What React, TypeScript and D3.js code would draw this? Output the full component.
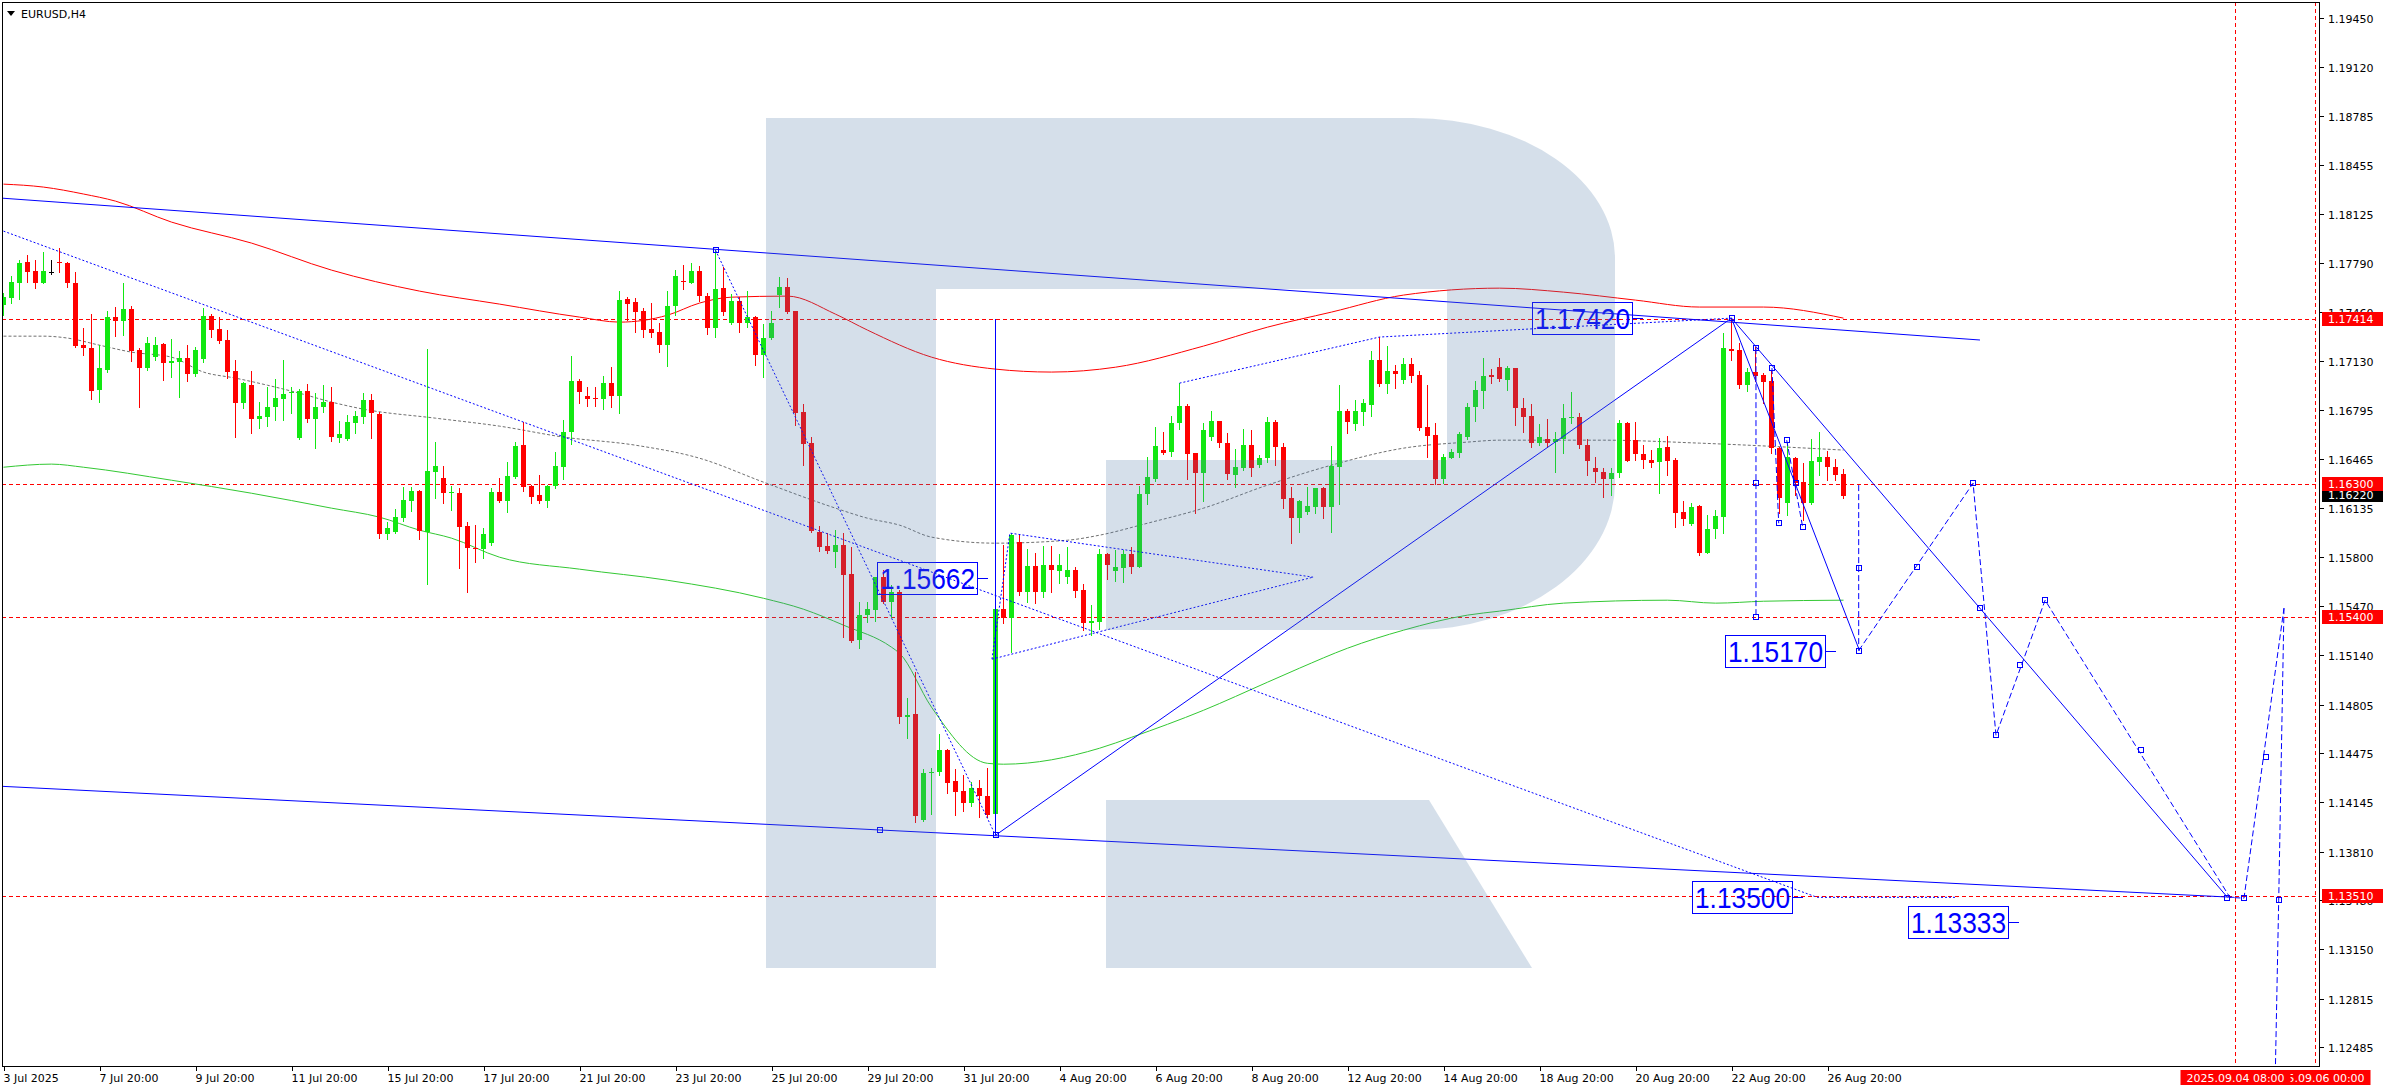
import React from 'react';
import * as d3 from 'd3';

// ---------- DATA ----------
const X_LABELS = ["3 Jul 2025","7 Jul 20:00","9 Jul 20:00","11 Jul 20:00","15 Jul 20:00","17 Jul 20:00","21 Jul 20:00","23 Jul 20:00","25 Jul 20:00","29 Jul 20:00","31 Jul 20:00","4 Aug 20:00","6 Aug 20:00","8 Aug 20:00","12 Aug 20:00","14 Aug 20:00","18 Aug 20:00","20 Aug 20:00","22 Aug 20:00","26 Aug 20:00"];
const X_LABEL_STEP = 12;
const PRICE_TICKS = [1.19450,1.19120,1.18785,1.18455,1.18125,1.17790,1.17460,1.17130,1.16795,1.16465,1.16135,1.15800,1.15470,1.15140,1.14805,1.14475,1.14145,1.13810,1.13480,1.13150,1.12815,1.12485];
const LEVELS = [1.17414, 1.16300, 1.15400, 1.13510];
const BID = 1.16220;
const TIME_MARKERS: { bar: number; label: string }[] = [
  { bar: 289, label: "2025.09.06 00:00" },
  { bar: 279, label: "2025.09.04 08:00" },
];

// H4 candles: [open, high, low, close]
const OHLC: [number, number, number, number][] = [
[1.17508,1.17589,1.17440,1.17562],[1.17555,1.17704,1.17522,1.17664],[1.17657,1.17813,1.17549,1.17792],[1.17799,1.17847,1.17664,1.17732],
[1.17738,1.17813,1.17623,1.17657],[1.17657,1.17867,1.17657,1.17738],[1.17732,1.17813,1.17718,1.17732],[1.17799,1.17894,1.17732,1.17792],
[1.17792,1.17799,1.17630,1.17657],[1.17657,1.17732,1.17224,1.17231],[1.17237,1.17352,1.17170,1.17217],[1.17217,1.17447,1.16872,1.16926],
[1.16933,1.17237,1.16851,1.17082],[1.17068,1.17468,1.17055,1.17427],[1.17427,1.17495,1.17298,1.17400],[1.17400,1.17657,1.17305,1.17481],
[1.17481,1.17501,1.17129,1.17197],[1.17204,1.17217,1.16818,1.17082],[1.17082,1.17292,1.17068,1.17251],[1.17156,1.17292,1.17136,1.17237],
[1.17244,1.17251,1.17000,1.17115],[1.17115,1.17278,1.17021,1.17129],[1.17122,1.17197,1.16885,1.17149],[1.17149,1.17237,1.16994,1.17041],
[1.17041,1.17224,1.17028,1.17204],[1.17143,1.17488,1.17122,1.17434],[1.17434,1.17447,1.17292,1.17339],[1.17346,1.17427,1.17251,1.17264],
[1.17271,1.17339,1.17014,1.17055],[1.17061,1.17136,1.16615,1.16845],[1.16845,1.16987,1.16811,1.16980],[1.16966,1.17061,1.16642,1.16736],
[1.16736,1.16851,1.16675,1.16757],[1.16750,1.16953,1.16689,1.16818],[1.16818,1.17007,1.16730,1.16879],[1.16872,1.17136,1.16730,1.16906],
[1.16912,1.16953,1.16777,1.16919],[1.16608,1.16940,1.16601,1.16926],[1.16926,1.16973,1.16716,1.16736],[1.16736,1.16912,1.16540,1.16818],
[1.16818,1.16966,1.16784,1.16851],[1.16851,1.16953,1.16587,1.16615],[1.16608,1.16723,1.16581,1.16635],[1.16601,1.16763,1.16594,1.16716],
[1.16709,1.16790,1.16642,1.16757],[1.16750,1.16912,1.16709,1.16865],[1.16865,1.16906,1.16608,1.16777],[1.16770,1.16784,1.15931,1.15958],
[1.15958,1.16039,1.15924,1.15998],[1.15971,1.16127,1.15965,1.16073],[1.16066,1.16276,1.16046,1.16188],[1.16181,1.16276,1.16114,1.16249],
[1.16249,1.16256,1.15924,1.15978],[1.15971,1.17210,1.15619,1.16384],[1.16378,1.16581,1.16202,1.16418],[1.16337,1.16418,1.16168,1.16235],
[1.16235,1.16283,1.16120,1.16242],[1.16235,1.16269,1.15728,1.16005],[1.16012,1.16039,1.15565,1.15863],[1.15863,1.16019,1.15768,1.15856],
[1.15856,1.15998,1.15795,1.15958],[1.15897,1.16269,1.15883,1.16242],[1.16242,1.16337,1.16175,1.16181],[1.16181,1.16445,1.16107,1.16351],
[1.16344,1.16581,1.16337,1.16554],[1.16560,1.16716,1.16249,1.16276],[1.16283,1.16290,1.16168,1.16208],[1.16222,1.16357,1.16168,1.16181],
[1.16181,1.16290,1.16141,1.16283],[1.16283,1.16513,1.16269,1.16418],[1.16411,1.16730,1.16330,1.16648],[1.16648,1.17163,1.16567,1.16994],
[1.16994,1.17007,1.16845,1.16919],[1.16892,1.16953,1.16824,1.16872],[1.16879,1.16953,1.16824,1.16872],[1.16872,1.17028,1.16804,1.16980],
[1.16980,1.17088,1.16818,1.16892],[1.16892,1.17603,1.16777,1.17542],[1.17549,1.17562,1.17407,1.17515],[1.17528,1.17555,1.17325,1.17461],
[1.17468,1.17488,1.17292,1.17339],[1.17346,1.17522,1.17292,1.17319],[1.17325,1.17386,1.17190,1.17237],[1.17237,1.17603,1.17095,1.17501],
[1.17501,1.17745,1.17440,1.17704],[1.17671,1.17779,1.17616,1.17664],[1.17657,1.17792,1.17657,1.17738],[1.17738,1.17772,1.17535,1.17569],
[1.17569,1.17589,1.17312,1.17352],[1.17352,1.17880,1.17292,1.17616],[1.17623,1.17765,1.17440,1.17461],[1.17386,1.17583,1.17380,1.17535],
[1.17535,1.17562,1.17325,1.17386],[1.17386,1.17603,1.17359,1.17427],[1.17427,1.17434,1.17102,1.17170],[1.17170,1.17380,1.17021,1.17285],
[1.17285,1.17468,1.17278,1.17386],[1.17576,1.17698,1.17495,1.17630],[1.17630,1.17691,1.17454,1.17461],[1.17468,1.17468,1.16696,1.16777],
[1.16784,1.16838,1.16425,1.16567],[1.16574,1.16615,1.15971,1.15978],[1.15971,1.16012,1.15843,1.15870],[1.15877,1.15965,1.15829,1.15843],
[1.15836,1.15984,1.15734,1.15883],[1.15883,1.15965,1.15261,1.15680],[1.15687,1.15870,1.15227,1.15233],[1.15240,1.15497,1.15186,1.15409],
[1.15409,1.15497,1.15362,1.15450],[1.15443,1.15667,1.15369,1.15667],[1.15667,1.15714,1.15491,1.15497],[1.15497,1.15613,1.15396,1.15565],
[1.15565,1.15579,1.14678,1.14719],[1.14719,1.14848,1.14577,1.14732],[1.14739,1.15024,1.14008,1.14049],[1.14022,1.14367,1.14015,1.14340],
[1.14340,1.14374,1.14062,1.14347],[1.14347,1.14604,1.14326,1.14497],[1.14497,1.14502,1.14204,1.14272],[1.14286,1.14367,1.14055,1.14211],
[1.14218,1.14326,1.14082,1.14137],[1.14137,1.14279,1.14117,1.14238],[1.14238,1.14292,1.14042,1.14184],[1.14184,1.14374,1.14042,1.14055],
[1.14062,1.15511,1.13937,1.15450],[1.15450,1.15883,1.15355,1.15389],[1.15389,1.15965,1.15159,1.15951],[1.15904,1.15951,1.15545,1.15565],
[1.15565,1.15856,1.15497,1.15741],[1.15741,1.15829,1.15491,1.15565],[1.15565,1.15877,1.15531,1.15748],[1.15748,1.15877,1.15565,1.15715],
[1.15707,1.15822,1.15626,1.15748],[1.15667,1.15870,1.15626,1.15715],[1.15715,1.15734,1.15531,1.15573],[1.15580,1.15619,1.15309,1.15355],
[1.15355,1.15477,1.15274,1.15369],[1.15362,1.15856,1.15315,1.15822],[1.15822,1.15829,1.15653,1.15748],[1.15707,1.15851,1.15640,1.15734],
[1.15728,1.15851,1.15633,1.15822],[1.15822,1.15870,1.15694,1.15734],[1.15734,1.16283,1.15734,1.16229],[1.16229,1.16479,1.16161,1.16344],
[1.16330,1.16682,1.16317,1.16554],[1.16528,1.16648,1.16499,1.16506],[1.16513,1.16757,1.16486,1.16709],[1.16709,1.16980,1.16669,1.16824],
[1.16824,1.16838,1.16330,1.16499],[1.16506,1.16506,1.16100,1.16371],[1.16371,1.16709,1.16181,1.16663],[1.16615,1.16790,1.16594,1.16723],
[1.16723,1.16723,1.16547,1.16574],[1.16574,1.16642,1.16330,1.16364],[1.16357,1.16533,1.16276,1.16411],[1.16405,1.16669,1.16392,1.16560],
[1.16560,1.16662,1.16351,1.16405],[1.16425,1.16493,1.16411,1.16472],[1.16472,1.16750,1.16445,1.16716],[1.16716,1.16730,1.16425,1.16547],
[1.16547,1.16574,1.16134,1.16195],[1.16202,1.16276,1.15897,1.16066],[1.16066,1.16188,1.15971,1.16181],[1.16107,1.16276,1.16093,1.16147],
[1.16141,1.16269,1.16100,1.16269],[1.16269,1.16276,1.16066,1.16141],[1.16141,1.16554,1.15971,1.16418],[1.16411,1.16966,1.16161,1.16790],
[1.16790,1.16804,1.16642,1.16716],[1.16702,1.16865,1.16663,1.16790],[1.16784,1.16872,1.16696,1.16845],[1.16831,1.17197,1.16757,1.17136],
[1.17136,1.17292,1.16960,1.16973],[1.16973,1.17231,1.16912,1.17061],[1.17061,1.17102,1.16946,1.17041],[1.17000,1.17149,1.16980,1.17109],
[1.17109,1.17149,1.16987,1.17028],[1.17034,1.17061,1.16663,1.16675],[1.16682,1.16966,1.16479,1.16621],[1.16628,1.16709,1.16296,1.16330],
[1.16330,1.16499,1.16303,1.16479],[1.16472,1.16533,1.16472,1.16513],[1.16506,1.16648,1.16479,1.16635],[1.16615,1.16845,1.16601,1.16818],
[1.16818,1.16994,1.16723,1.16933],[1.16926,1.17149,1.16811,1.17028],[1.17034,1.17075,1.16980,1.17021],[1.17088,1.17149,1.16994,1.17007],
[1.17000,1.17095,1.16933,1.17082],[1.17082,1.17082,1.16696,1.16811],[1.16811,1.16879,1.16648,1.16750],[1.16757,1.16838,1.16547,1.16574],
[1.16574,1.16702,1.16560,1.16615],[1.16601,1.16736,1.16547,1.16574],[1.16581,1.16648,1.16378,1.16601],[1.16601,1.16838,1.16506,1.16743],
[1.16743,1.16919,1.16709,1.16750],[1.16750,1.16777,1.16540,1.16560],[1.16560,1.16601,1.16357,1.16452],[1.16405,1.16479,1.16310,1.16378],
[1.16378,1.16405,1.16208,1.16330],[1.16330,1.16405,1.16222,1.16371],[1.16371,1.16730,1.16344,1.16709],[1.16709,1.16716,1.16452,1.16452],
[1.16595,1.16716,1.16460,1.16499],[1.16499,1.16560,1.16405,1.16460],[1.16460,1.16528,1.16411,1.16439],[1.16445,1.16608,1.16235,1.16540],
[1.16547,1.16621,1.16357,1.16452],[1.16460,1.16472,1.16005,1.16100],[1.16107,1.16181,1.16019,1.16059],[1.16025,1.16168,1.16019,1.16141],
[1.16147,1.16154,1.15816,1.15829],[1.15829,1.16086,1.15829,1.15992],[1.15992,1.16120,1.15931,1.16080],[1.16073,1.17319,1.15965,1.17217],
[1.17210,1.17420,1.17136,1.17197],[1.17204,1.17251,1.16946,1.16966],[1.16966,1.17082,1.16926,1.17055],[1.17055,1.17224,1.16994,1.17028],
[1.17034,1.17048,1.16845,1.16987],[1.16994,1.17068,1.16506,1.16540],[1.16540,1.16547,1.16100,1.16202],[1.16168,1.16574,1.16086,1.16479],
[1.16472,1.16479,1.16222,1.16303],[1.16310,1.16439,1.16054,1.16168],[1.16168,1.16601,1.16161,1.16452],[1.16445,1.16648,1.16357,1.16479],
[1.16479,1.16520,1.16325,1.16411],[1.16411,1.16466,1.16325,1.16357],[1.16364,1.16398,1.16202,1.16215]
];

// Moving averages: [bar, price]
const MA_RED: [number, number][] = [[0,1.18327],[5,1.18307],[10,1.18260],[14,1.18212],[21,1.18070],[31,1.17928],[41,1.17745],[52,1.17603],[62,1.17515],[72,1.17427],[77,1.17393],[83,1.17440],[87,1.17522],[91,1.17562],[98,1.17569],[104,1.17447],[108,1.17339],[116,1.17156],[124,1.17075],[131,1.17055],[139,1.17088],[150,1.17231],[158,1.17359],[166,1.17461],[175,1.17576],[187,1.17623],[195,1.17596],[204,1.17542],[212,1.17495],[220,1.17495],[230,1.17420]];
const MA_GREEN: [number, number][] = [[0,1.16411],[6,1.16432],[10,1.16411],[21,1.16323],[31,1.16235],[41,1.16134],[47,1.16073],[52,1.15985],[56,1.15931],[62,1.15802],[72,1.15721],[83,1.15646],[95,1.15524],[100,1.15450],[105,1.15342],[111,1.15193],[112,1.15152],[116,1.14787],[123,1.14407],[125,1.14401],[137,1.14509],[141,1.14583],[150,1.14766],[158,1.14956],[162,1.15051],[168,1.15186],[175,1.15308],[183,1.15410],[187,1.15437],[195,1.15491],[208,1.15511],[214,1.15491],[220,1.15504],[230,1.15511]];
const MA_GRAY: [number, number][] = [[0,1.17298],[5,1.17298],[8,1.17285],[12,1.17237],[16,1.17190],[21,1.17156],[25,1.17055],[29,1.17014],[33,1.16966],[37,1.16912],[41,1.16852],[45,1.16804],[54,1.16743],[62,1.16689],[70,1.16615],[79,1.16560],[87,1.16472],[95,1.16310],[104,1.16134],[108,1.16066],[112,1.16019],[116,1.15938],[124,1.15897],[133,1.15917],[137,1.15951],[143,1.16032],[150,1.16134],[158,1.16290],[166,1.16425],[175,1.16540],[183,1.16581],[187,1.16594],[200,1.16594],[212,1.16574],[230,1.16527]];

// Analyst drawings: [bar, price]
const SOLID_LINES: [number, number][][] = [
  [[-0.44,1.18233],[247.06,1.17272]],
  [[-0.44,1.14252],[278.8,1.13500]],
  [[124,1.13920],[216,1.17420]],
  [[124,1.13920],[124,1.17414]],
  [[216,1.17420],[232,1.15170]],
  [[216,1.17420],[278,1.13500]],
];
const DOTTED_LINES: [number, number][][] = [
  [[0,1.18009],[226.7,1.13500],[244.2,1.13500]],
  [[89,1.17880],[124,1.13920]],
  [[147,1.16980],[172,1.17292],[216,1.17420]],
  [[123.56,1.15112],[125.8,1.15965],[163.7,1.15667]],
  [[123.56,1.15112],[163.7,1.15667]],
];
const DASHED_LINES: [number, number][][] = [
  [[219.06,1.17217],[219.06,1.15396]],
  [[221.06,1.17082],[221.9,1.16032]],
  [[222.9,1.16594],[224.9,1.16005]],
  [[231.9,1.16290],[231.9,1.15170]],
  [[231.9,1.15170],[246.2,1.16303],[249.06,1.14597],[255.2,1.15511],[278.3,1.13500],[280.06,1.13494],[285.06,1.15457]],
  [[285.06,1.15457],[284.4,1.13480],[283.9,1.12100]],
];
const MARKERS: [number, number][] = [
  [89,1.17880],[216,1.17420],[124,1.13920],[109.6,1.13956],[224.06,1.16303],[231.9,1.15170],[247.06,1.15456],
  [277.9,1.13494],[280.06,1.13494],[239.2,1.15735],[252.1,1.15071],[267.2,1.14496],[282.8,1.14448],[284.4,1.13480],
  [231.9,1.15728],[219.06,1.17217],[219.06,1.16303],[219.06,1.15396],[221.06,1.17082],[221.9,1.16032],[222.9,1.16594],[224.9,1.16005],[246.2,1.16303],[249.06,1.14597],[255.2,1.15511]
];
const PRICE_LABELS: { text: string; bar: number; price: number }[] = [
  { text: "1.15662", bar: 123.06, price: 1.15662 },
  { text: "1.17420", bar: 204.94, price: 1.17420 },
  { text: "1.15170", bar: 229.06, price: 1.15170 },
  { text: "1.13500", bar: 224.94, price: 1.13500 },
  { text: "1.13333", bar: 251.94, price: 1.13333 },
];

// ---------- LAYOUT ----------
const W = 2383, H = 1090;
const PL = 2, PT = 2, PR = 2319, PB = 1066;
const GREEN = '#12e812';
const RED = '#ff0000';
const BLUE = '#0000ff';
const AXIS_FONT = "Tahoma, 'DejaVu Sans', sans-serif";
const LABEL_FONT = "'Liberation Sans', Arial, sans-serif";

const x = d3.scaleLinear().domain([0, 289]).range([3.5, 2315.5]);
const y = d3.scaleLinear().domain([1.12485, 1.19450]).range([1047.3, 18.2]);
const fmt = d3.format('.5f');

const line = d3.line<[number, number]>().x(d => x(d[0])).y(d => y(d[1]));
const smooth = d3.line<[number, number]>().x(d => x(d[0])).y(d => y(d[1])).curve(d3.curveMonotoneX);

export default function App() {
  const candles = OHLC.map((d, i) => {
    const [o, h, l, c] = d;
    const cx = x(i);
    const col = c > o ? GREEN : c < o ? RED : '#000000';
    const yt = Math.round(y(Math.max(o, c)));
    const yb = Math.round(y(Math.min(o, c)));
    return (
      <g key={i}>
        <line x1={cx} x2={cx} y1={Math.round(y(h))} y2={Math.round(y(l)) + 1} stroke={col} strokeWidth={1} />
        <rect x={cx - 2.5} y={yt} width={5} height={Math.max(1, yb - yt)} fill={col} />
      </g>
    );
  });

  return (
    <svg width={W} height={H} style={{ position: 'absolute', left: 0, top: 0, display: 'block', background: '#fff' }}
      xmlns="http://www.w3.org/2000/svg">
      <defs>
        <clipPath id="plotClip"><rect x={PL} y={PT} width={PR - PL} height={PB - PT} /></clipPath>
      </defs>
      <rect x={0} y={0} width={W} height={H} fill="#ffffff" />

      <g clipPath="url(#plotClip)">
        {LEVELS.map(p => (
          <line key={p} x1={PL} x2={PR} y1={Math.round(y(p)) + 0.5} y2={Math.round(y(p)) + 0.5} stroke={RED} strokeDasharray="4,3" shapeRendering="crispEdges" />
        ))}
        {TIME_MARKERS.map(t => (
          <line key={t.bar} x1={x(t.bar)} x2={x(t.bar)} y1={PT} y2={PB} stroke={RED} strokeDasharray="4,3" shapeRendering="crispEdges" />
        ))}

        <path d={smooth(MA_GREEN) || ''} fill="none" stroke="#33c833" strokeWidth={1} />
        <path d={smooth(MA_GRAY) || ''} fill="none" stroke="#707070" strokeWidth={1} strokeDasharray="3,2" />
        <path d={smooth(MA_RED) || ''} fill="none" stroke={RED} strokeWidth={1} />

        <g shapeRendering="crispEdges">{candles}</g>

        {SOLID_LINES.map((l, k) => <path key={'s' + k} d={line(l) || ''} fill="none" stroke={BLUE} strokeWidth={1} />)}
        {DOTTED_LINES.map((l, k) => <path key={'d' + k} d={line(l) || ''} fill="none" stroke={BLUE} strokeWidth={1} strokeDasharray="2,2" />)}
        {DASHED_LINES.map((l, k) => <path key={'f' + k} d={line(l) || ''} fill="none" stroke={BLUE} strokeWidth={1} strokeDasharray="6,3" />)}
        {MARKERS.map((m, k) => (
          <rect key={'m' + k} x={Math.round(x(m[0])) - 2.5} y={Math.round(y(m[1])) - 2.5} width={5} height={5} fill="none" stroke={BLUE} strokeWidth={1} />
        ))}

        {PRICE_LABELS.map((lb, k) => {
          const xa = Math.round(x(lb.bar));
          const yp = Math.round(y(lb.price));
          return (
            <g key={'pl' + k}>
              <rect x={xa - 111 + 0.5} y={yp - 16 + 0.5} width={100} height={32} fill="none" stroke={BLUE} strokeWidth={1} />
              <line x1={xa - 11} x2={xa} y1={yp + 0.5} y2={yp + 0.5} stroke={BLUE} strokeWidth={1} />
              <text x={xa - 108} y={yp + 11} fill={BLUE} fontFamily={LABEL_FONT} fontSize={30}
                textLength={95} lengthAdjust="spacingAndGlyphs">{lb.text}</text>
            </g>
          );
        })}

        <g fill="rgb(82,123,169)" fillOpacity={0.243}>
          <path d="M766,118 H1413 A202,140 0 0 1 1615,258 V483 A202,147 0 0 1 1413,630 H1106 V460 H1447 V289 H936 V968 H766 Z" />
          <path d="M1106,800 H1429 L1532,968 H1106 Z" />
        </g>
      </g>

      <rect x={PL + 0.5} y={PT + 0.5} width={PR - PL} height={PB - PT} fill="none" stroke="#000" strokeWidth={1} shapeRendering="crispEdges" />

      <polygon points="7,11 15,11 11,16" fill="#000" />
      <text x={21} y={18} fontFamily={AXIS_FONT} fontSize={11} fill="#000">EURUSD,H4</text>

      <g fontFamily={AXIS_FONT} fontSize={11}>
        {PRICE_TICKS.map(p => {
          const yy = Math.round(y(p)) + 0.5;
          return (
            <g key={p}>
              <line x1={PR} x2={PR + 5} y1={yy} y2={yy} stroke="#000" shapeRendering="crispEdges" />
              <text x={2328} y={yy + 4} fill="#000">{fmt(p)}</text>
            </g>
          );
        })}
        {[BID].map(p => {
          const yy = Math.round(y(p));
          return (
            <g key="bid">
              <rect x={2322} y={yy - 7} width={61} height={14} fill="#000" />
              <text x={2328} y={yy + 4} fill="#fff">{fmt(p)}</text>
            </g>
          );
        })}
        {LEVELS.map(p => {
          const yy = Math.round(y(p));
          return (
            <g key={'lv' + p}>
              <rect x={2322} y={yy - 7} width={61} height={14} fill={RED} />
              <text x={2328} y={yy + 4} fill="#fff">{fmt(p)}</text>
            </g>
          );
        })}
      </g>

      <g fontFamily={AXIS_FONT} fontSize={11}>
        {X_LABELS.map((t, k) => {
          const xx = Math.round(x(k * X_LABEL_STEP)) + 0.5;
          return (
            <g key={t}>
              <line x1={xx} x2={xx} y1={PB} y2={PB + 5} stroke="#000" shapeRendering="crispEdges" />
              <text x={xx - 1} y={1082} fill="#000">{t}</text>
            </g>
          );
        })}
        {TIME_MARKERS.map(t => (
          <g key={'tm' + t.bar}>
            <rect x={x(t.bar) - 55} y={1070} width={110} height={15} fill={RED} />
            <text x={x(t.bar)} y={1082} fill="#fff" textAnchor="middle">{t.label}</text>
          </g>
        ))}
      </g>
    </svg>
  );
}
